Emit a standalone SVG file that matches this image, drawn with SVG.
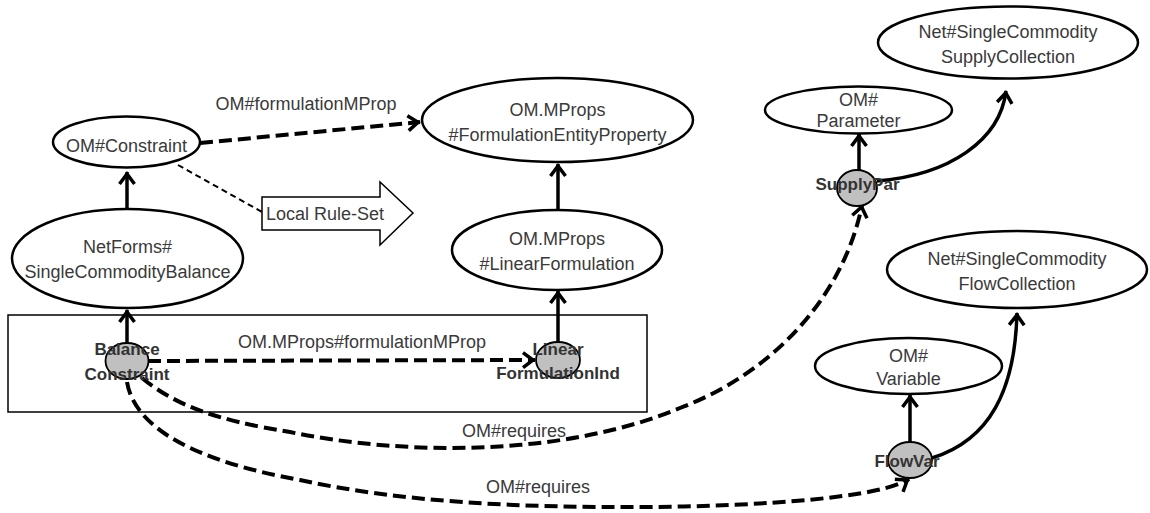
<svg xmlns="http://www.w3.org/2000/svg" width="1150" height="513" viewBox="0 0 1150 513">
  <style>
    .cls { fill: #ffffff; stroke: #000000; stroke-width: 2.5; }
    .ind { fill: #c0c0c0; stroke: #000000; stroke-width: 1.8; }
    .t { font-family: "Liberation Sans", Arial, sans-serif; font-size: 18px; fill: #3a3a3a; text-anchor: middle; }
    .b { font-family: "Liberation Sans", Arial, sans-serif; font-size: 17px; font-weight: bold; fill: #333333; text-anchor: middle; }
    .solid { fill: none; stroke: #000000; stroke-width: 3.5; marker-end: url(#arr); }
    .dash { fill: none; stroke: #000000; stroke-width: 4; stroke-dasharray: 13 6; marker-end: url(#arr); }
    .thin { fill: none; stroke: #000000; stroke-width: 2; stroke-dasharray: 6 4; }
  </style>
  <defs>
    <marker id="arr" markerUnits="userSpaceOnUse" orient="auto" overflow="visible" refX="2" refY="0" markerWidth="16" markerHeight="20" viewBox="-12 -10 16 20">
      <path d="M-10,-7.5 L0,0 L-10,7.5" fill="none" stroke="#000000" stroke-width="3.5" stroke-dasharray="none" stroke-linejoin="miter"/>
    </marker>
  </defs>
  <rect width="1150" height="513" fill="#ffffff"/>

  <!-- local scope box -->
  <rect id="scope" x="8" y="315" width="639" height="97" fill="none" stroke="#000000" stroke-width="1.5"/>

  <!-- block arrow -->
  <g id="local-rule-set">
    <polygon points="262,197 380,197 380,182 413,213 380,245 380,230 262,230" fill="#ffffff" stroke="#000000" stroke-width="1.5"/>
    <text class="t" x="325" y="220">Local Rule-Set</text>
  </g>

  <!-- connectors -->
  <g id="connectors">
    <path class="solid" d="M127,208 L127,172"/>
    <path class="solid" d="M127,343 L127,310"/>
    <path class="solid" d="M558,342 L558,291"/>
    <path class="solid" d="M558,210 L558,164"/>
    <path class="solid" d="M859,170 L859,134"/>
    <path class="solid" d="M910,442 L910,395"/>
    <path class="solid" d="M877,181 C950,175 1000,140 1006,91"/>
    <path class="solid" d="M932,458 C990,440 1015,390 1017,313"/>
    <path class="dash" d="M200,143 L420,122"/>
    <path class="thin" d="M178,165 L262,212"/>
    <path class="dash" d="M148,361 L535,360"/>
    <path class="dash" d="M142,378 C175,405 215,420 290,432 C400,455 560,458 680,408 C780,370 845,290 862,205"/>
    <path class="dash" d="M127,382 C135,430 200,462 300,480 C400,502 520,508 650,507 C760,506 880,498 909,479"/>
    <text class="t" x="306" y="110">OM#formulationMProp</text>
    <text class="t" x="362" y="348">OM.MProps#formulationMProp</text>
    <text class="t" x="514" y="437">OM#requires</text>
    <text class="t" x="538" y="493">OM#requires</text>
  </g>

  <!-- class nodes -->
  <g id="om-constraint">
    <ellipse class="cls" cx="126.5" cy="142" rx="73.5" ry="25.5"/>
    <text class="t" x="126.5" y="152">OM#Constraint</text>
  </g>
  <g id="single-commodity-balance">
    <ellipse class="cls" cx="127.5" cy="258.5" rx="115.5" ry="49.5"/>
    <text class="t" x="127.5" y="253">NetForms#</text>
    <text class="t" x="127.5" y="278">SingleCommodityBalance</text>
  </g>
  <g id="formulation-entity-property">
    <ellipse class="cls" cx="557.5" cy="120" rx="135.5" ry="42"/>
    <text class="t" x="557.5" y="116">OM.MProps</text>
    <text class="t" x="557.5" y="141">#FormulationEntityProperty</text>
  </g>
  <g id="linear-formulation">
    <ellipse class="cls" cx="557" cy="250" rx="105" ry="40"/>
    <text class="t" x="557" y="245">OM.MProps</text>
    <text class="t" x="557" y="270">#LinearFormulation</text>
  </g>
  <g id="om-parameter">
    <ellipse class="cls" cx="858.5" cy="110" rx="93.5" ry="23.5"/>
    <text class="t" x="858.5" y="106">OM#</text>
    <text class="t" x="858.5" y="127">Parameter</text>
  </g>
  <g id="supply-collection">
    <ellipse class="cls" cx="1008" cy="42.5" rx="130" ry="36"/>
    <text class="t" x="1008" y="38">Net#SingleCommodity</text>
    <text class="t" x="1008" y="63">SupplyCollection</text>
  </g>
  <g id="om-variable">
    <ellipse class="cls" cx="908.5" cy="366" rx="93.5" ry="28"/>
    <text class="t" x="908.5" y="362">OM#</text>
    <text class="t" x="908.5" y="385">Variable</text>
  </g>
  <g id="flow-collection">
    <ellipse class="cls" cx="1017" cy="269.5" rx="130" ry="38.5"/>
    <text class="t" x="1017" y="265">Net#SingleCommodity</text>
    <text class="t" x="1017" y="290">FlowCollection</text>
  </g>

  <!-- individual nodes -->
  <g id="balance-constraint">
    <ellipse class="ind" cx="127" cy="361" rx="21.5" ry="18"/>
    <text class="b" x="127" y="355">Balance</text>
    <text class="b" x="127" y="380">Constraint</text>
  </g>
  <g id="linear-formulation-ind">
    <ellipse class="ind" cx="558" cy="360" rx="22" ry="18"/>
    <text class="b" x="558" y="355">Linear</text>
    <text class="b" x="558" y="379">FormulationInd</text>
  </g>
  <g id="supply-par">
    <ellipse class="ind" cx="857" cy="188" rx="20" ry="18"/>
    <text class="b" x="857.5" y="190">SupplyPar</text>
  </g>
  <g id="flow-var">
    <ellipse class="ind" cx="910" cy="460" rx="22" ry="18"/>
    <text class="b" x="907" y="467">FlowVar</text>
  </g>
</svg>
